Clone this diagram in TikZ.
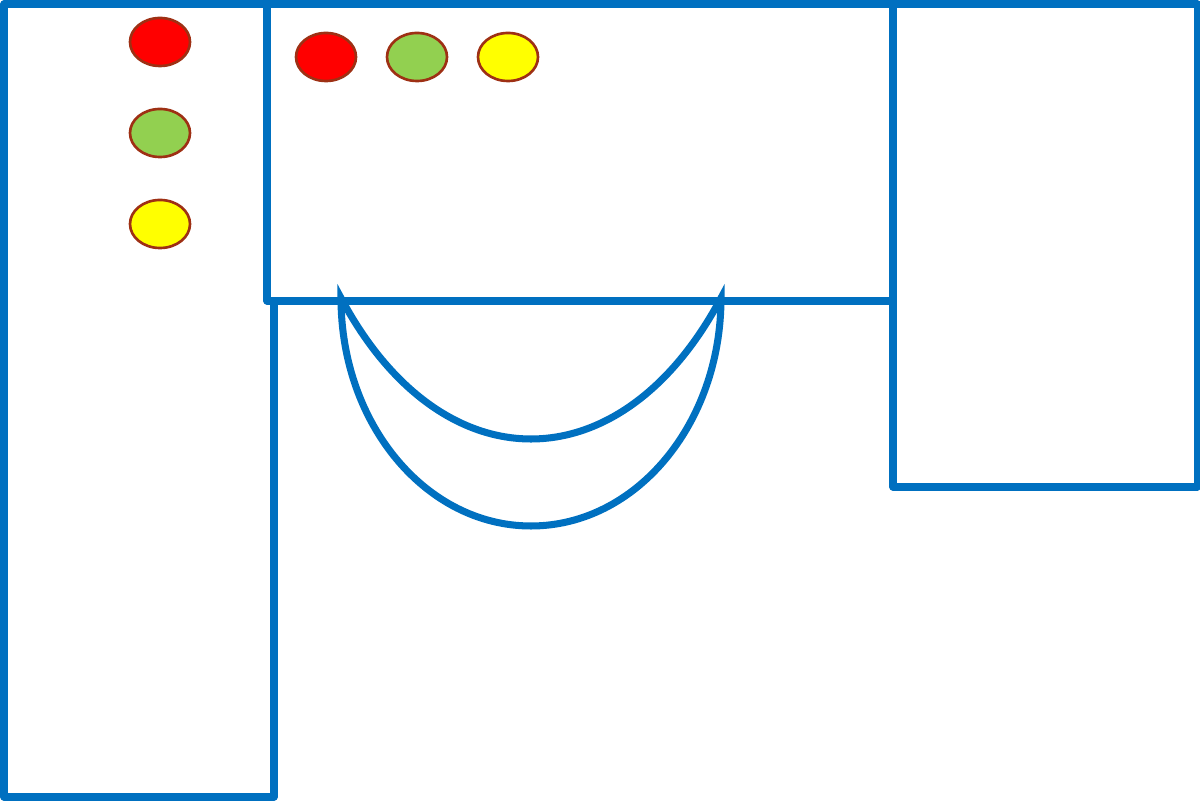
\documentclass[tikz,border=0pt]{standalone}
\usepackage{xcolor}
\usepackage{tikz}
\usetikzlibrary{positioning, shapes.geometric}
\definecolor{wallblue}{RGB}{0, 112, 192}
\definecolor{rimbrown}{RGB}{158, 48, 20}
\definecolor{lampred}{RGB}{255, 0, 0}
\definecolor{lampgreen}{RGB}{146, 208, 80}
\definecolor{lampyellow}{RGB}{255, 255, 0}

\begin{document}
\begin{tikzpicture}[
        x=0.01cm, y=-0.01cm,
        wall/.style={draw=wallblue, line width=2pt, line join=round},
        bowl/.style={draw=wallblue, line width=2pt, line join=miter, miter limit=20},
        lamp/.style={ellipse, draw=rimbrown, line width=0.75pt,
                     minimum width=0.6cm, minimum height=0.48cm, inner sep=0pt}
      ]
        \useasboundingbox (0,0) rectangle (1200,801);

        % rooms
        \draw[wall] (267,4) -- (4,4) -- (4,797) -- (274,797) -- (274,301);
        \draw[wall] (267,4) rectangle (893,301);
        \draw[wall] (893,4) rectangle (1197,487);

        % crescent below the middle room
        \draw[bowl] (341,298) .. controls (341,424) and (426,526) .. (531,526)
                    .. controls (636,526) and (721,424) .. (721,298)
                    .. controls (621,486) and (441,486) .. cycle;

        % lamps, left column
        \node[lamp, fill=lampred]    (L1) at (160,42)  {};
        \node[lamp, fill=lampgreen]  (L2) at (160,133) {};
        \node[lamp, fill=lampyellow] (L3) at (160,224) {};

        % lamps, top row
        \node[lamp, fill=lampred]    (T1) at (326,57) {};
        \node[lamp, fill=lampgreen]  (T2) at (417,57) {};
        \node[lamp, fill=lampyellow] (T3) at (508,57) {};
\end{tikzpicture}
\end{document}
